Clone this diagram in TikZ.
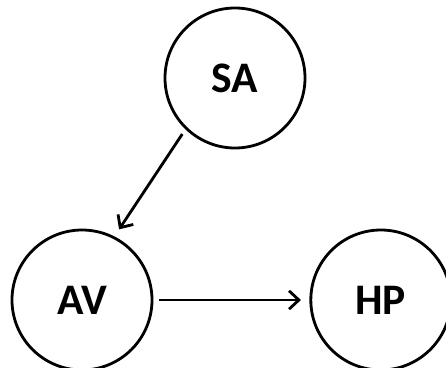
\documentclass[tikz,border=0pt]{standalone}
\usepackage{fontspec}
\setmainfont{Carlito}
\usetikzlibrary{positioning,arrows.meta}

\begin{document}
\begin{tikzpicture}[
node distance=3.9cm,
every node/.style={font=\fontsize{31}{36}\selectfont\bfseries},
var/.style={draw, circle, line width=2pt, minimum size=3.5cm, inner sep=0pt},
link/.style={line width=2pt, -{Straight Barb[length=7pt,width=13pt,line width=2pt]}, shorten <=4pt, shorten >=6pt}
]
\useasboundingbox (-2.05,-1.675) rectangle (9.1,7.5);
\node[var] (av) at (0,0) {AV};
\node[var, right=of av] (hp) {HP};
\node[var] (sa) at (3.825,5.55) {SA};
\draw[link] (sa.226) -- (av.63);
\draw[link] (av) -- (hp);
\end{tikzpicture}
\end{document}
